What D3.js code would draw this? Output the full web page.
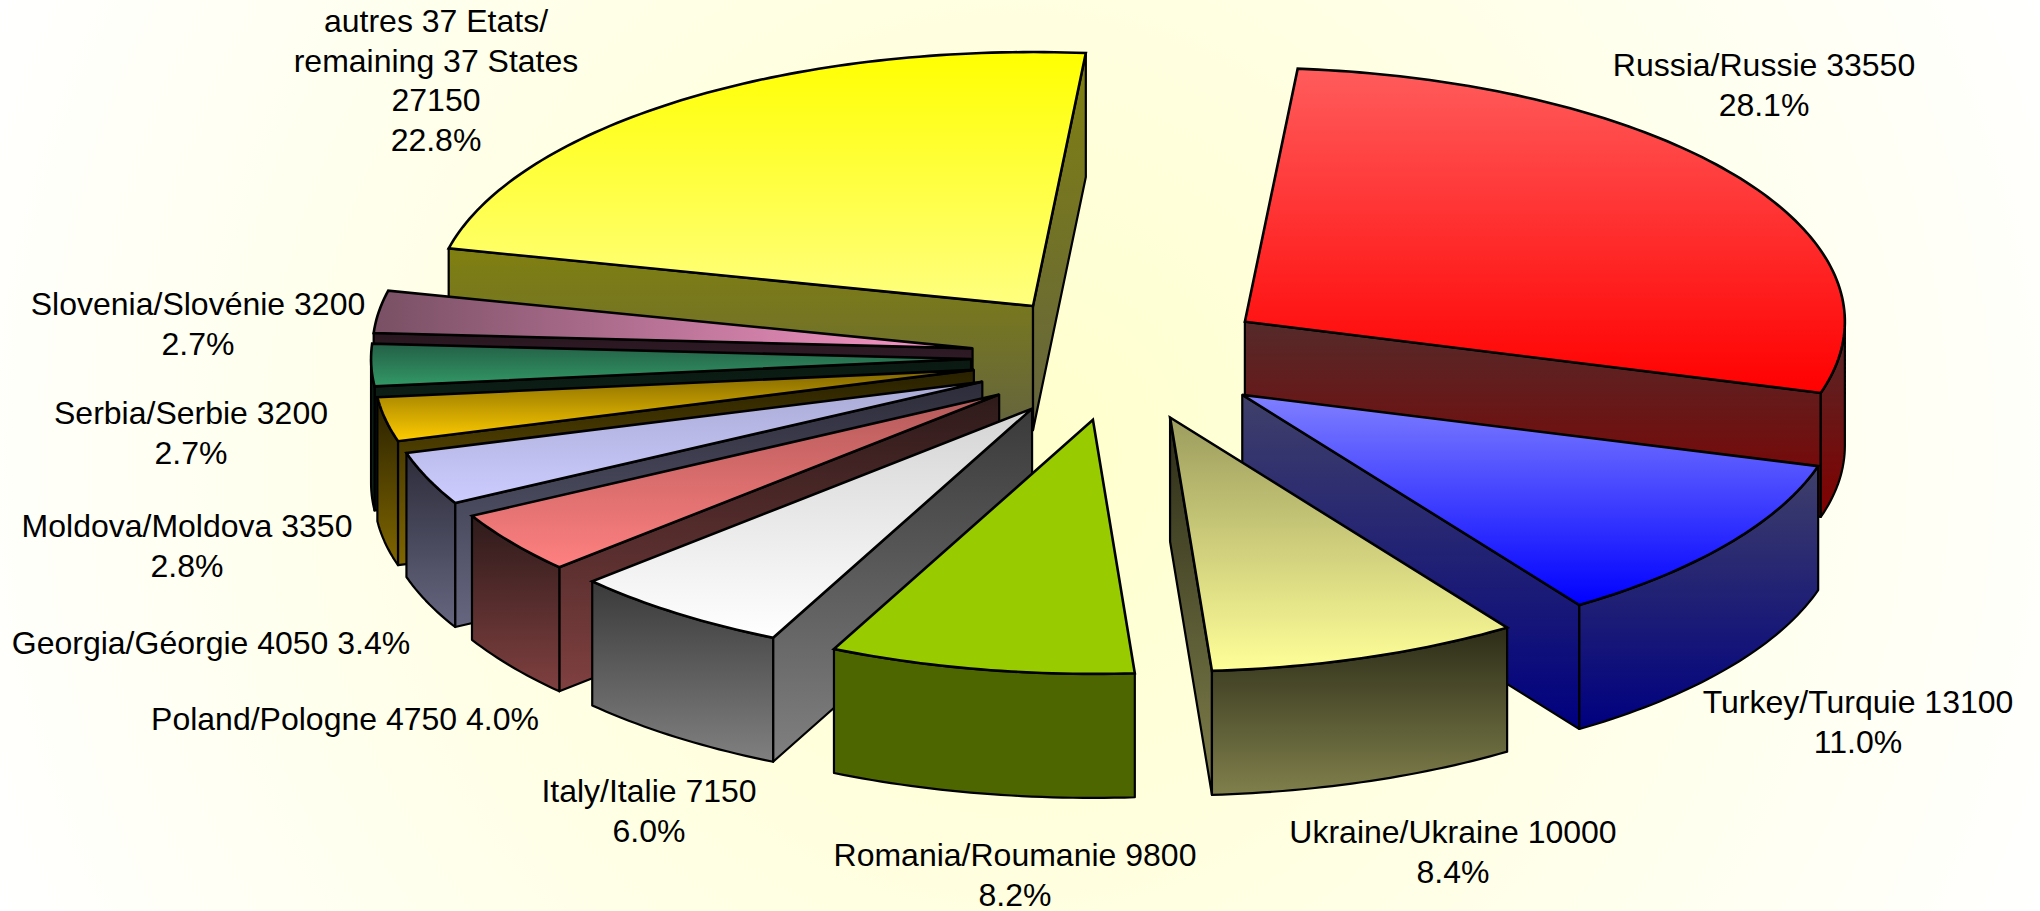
<!DOCTYPE html>
<html>
<head>
<meta charset="utf-8">
<script src="https://cdn.jsdelivr.net/npm/d3@7"></script>
<style>
    html, body { margin: 0; padding: 0; background: #fffffa; }
    svg { display: block; }
    text { font-family: "Liberation Sans", Arial, sans-serif; font-size: 32px; fill: #000; }
</style>
</head>
<body>
<div id="chart"></div>
<script>
// data, clockwise from Russia
const countries = ["Russia/Russie", "Turkey/Turquie", "Ukraine/Ukraine", "Romania/Roumanie", "Italy/Italie",
    "Poland/Pologne", "Georgia/Géorgie", "Moldova/Moldova", "Serbia/Serbie", "Slovenia/Slovénie", "autres"];
const values = [33550, 13100, 10000, 9800, 7150, 4750, 4050, 3350, 3200, 3200, 27150];
const percents = ["28.1%", "11.0%", "8.4%", "8.2%", "6.0%", "4.0%", "3.4%", "2.8%", "2.7%", "2.7%", "22.8%"];

// label lines as they are printed
const labelLines = [
    ["Russia/Russie 33550", "28.1%"],
    ["Turkey/Turquie 13100", "11.0%"],
    ["Ukraine/Ukraine 10000", "8.4%"],
    ["Romania/Roumanie 9800", "8.2%"],
    ["Italy/Italie 7150", "6.0%"],
    ["Poland/Pologne 4750 4.0%"],
    ["Georgia/Géorgie 4050 3.4%"],
    ["Moldova/Moldova 3350", "2.8%"],
    ["Serbia/Serbie 3200", "2.7%"],
    ["Slovenia/Slovénie 3200", "2.7%"],
    ["autres 37 Etats/", "remaining 37 States", "27150", "22.8%"]
];

// styles per slice, [top of gradient, bottom of gradient]
const topColors = [["#ff5c5c", "#ff0000"], ["#8080ff", "#0000ff"], ["#9c9c5e", "#ffff99"], ["#99cc00", "#99cc00"],
    ["#d4d4d4", "#ffffff"], ["#b45a5a", "#ff8080"], ["#aaaad5", "#ccccff"], ["#806600", "#ffcc00"],
    ["#235f46", "#339966"], ["#785064", "#ff99cc"], ["#ffff00", "#ffff80"]];
const wallColors = [["#552a2a", "#800000"], ["#40406a", "#000080"], ["#2c2c18", "#80804c"], ["#4d6600", "#4d6600"],
    ["#3a3a3a", "#808080"], ["#2e1a1a", "#804040"], ["#2c2c3a", "#666680"], ["#282000", "#806600"],
    ["#0a1a12", "#0f2a1e"], ["#28161f", "#4d2e3e"], ["#808010", "#646440"]];

// label centres, first line
const labelAt = [[1764, 65], [1858, 702], [1453, 832], [1015, 855], [649, 791], [345, 719], [211, 643],
    [187, 526], [191, 413], [198, 304], [436, 21]];
const lineGap = 39.5;

// 2040x911 page
const width = 2040, height = 911;
const cx = 1121, cy = 357.5, rx = 600, ry = 254, depth = 124, explode = 0.25;

const x = d3.scaleLinear().domain([-1, 1]).range([cx - rx, cx + rx]);
const y = d3.scaleLinear().domain([-1, 1]).range([cy - ry, cy + ry]);
const rad = d3.scaleLinear().domain([0, 360]).range([0, 2 * Math.PI]);

const svg = d3.select("#chart").append("svg")
    .attr("width", width)
    .attr("height", height);
const defs = svg.append("defs");

// background, pale yellow in the middle going white at the corners
const bg = defs.append("radialGradient")
    .attr("id", "bg")
    .attr("gradientUnits", "userSpaceOnUse")
    .attr("cx", width / 2).attr("cy", height / 2).attr("r", 1117);
bg.append("stop").attr("offset", 0).attr("stop-color", "#ffffcc");
bg.append("stop").attr("offset", 1).attr("stop-color", "#ffffff");
svg.append("rect").attr("width", width).attr("height", height).attr("fill", "url(#bg)");

function addGradient(id, stops, horizontal) {
    const g = defs.append("linearGradient")
        .attr("id", id)
        .attr("x1", 0).attr("y1", 0)
        .attr("x2", horizontal ? 1 : 0).attr("y2", horizontal ? 0 : 1);
    g.append("stop").attr("offset", 0).attr("stop-color", stops[0]);
    g.append("stop").attr("offset", 1).attr("stop-color", stops[1]);
    return "url(#" + id + ")";
}

const pie = d3.pie().sort(null).startAngle(rad(5.05)).endAngle(rad(365.05));
const arcs = pie(values);

const line = d3.line().x(d => d[0]).y(d => d[1]);
const closed = pts => line(pts) + "Z";

// samples along the ellipse, with the ends kept exact
function rim(a0, a1) {
    let steps = Math.max(2, Math.ceil((a1 - a0) / rad(1)));
    return d3.range(steps + 1).map(i => a0 + (a1 - a0) * i / steps);
}

// back to front: others, Russia, Turkey, Ukraine, then the left side up to Romania
const drawOrder = [10, 0, 1, 2, 9, 8, 7, 6, 5, 4, 3];

const slices = svg.selectAll("g.slice")
    .data(drawOrder)
    .join("g")
    .attr("class", "slice");

slices.each(function(i) {
    const g = d3.select(this);
    const a = arcs[i];
    const mid = (a.startAngle + a.endAngle) / 2;

    // exploded along the bisector
    const ox = explode * Math.sin(mid), oy = -explode * Math.cos(mid);
    const px = t => [x(ox + Math.sin(t)), y(oy - Math.cos(t))];
    const apex = [x(ox), y(oy)];
    const down = p => [p[0], p[1] + depth];

    const wallFill = (name) => addGradient("wall" + i + name, wallColors[i]);
    const wall = (pts, name) => g.append("path")
        .attr("d", closed(pts))
        .attr("fill", wallFill(name))
        .attr("stroke", "#000")
        .attr("stroke-width", 2.2)
        .attr("stroke-linejoin", "round");

    // radial walls that face the viewer
    if (Math.sin(a.startAngle) < 0) {
        let p = px(a.startAngle);
        wall([apex, p, down(p), down(apex)], "s");
    }
    if (Math.sin(a.endAngle) > 0) {
        let p = px(a.endAngle);
        wall([apex, p, down(p), down(apex)], "e");
    }

    // outer wall only on the front half
    let f0 = Math.max(a.startAngle, rad(90)), f1 = Math.min(a.endAngle, rad(270));
    if (f1 > f0) {
        let edge = rim(f0, f1).map(px);
        wall(edge.concat(edge.map(down).reverse()), "f");
    }

    // top face
    g.append("path")
        .attr("d", closed([apex].concat(rim(a.startAngle, a.endAngle).map(px))))
        .attr("fill", addGradient("top" + i, topColors[i], i === 9))
        .attr("stroke", "#000")
        .attr("stroke-width", 2.6)
        .attr("stroke-linejoin", "miter");
});

// labels
const labels = svg.selectAll("text.label")
    .data(labelLines)
    .join("text")
    .attr("class", "label")
    .attr("text-anchor", "middle");

labels.selectAll("tspan")
    .data((d, i) => d.map((t, k) => ({t: t, k: k, at: labelAt[i]})))
    .join("tspan")
    .attr("x", d => d.at[0])
    .attr("y", d => d.at[1] + d.k * lineGap + 11)
    .text(d => d.t);
</script>
</body>
</html>
